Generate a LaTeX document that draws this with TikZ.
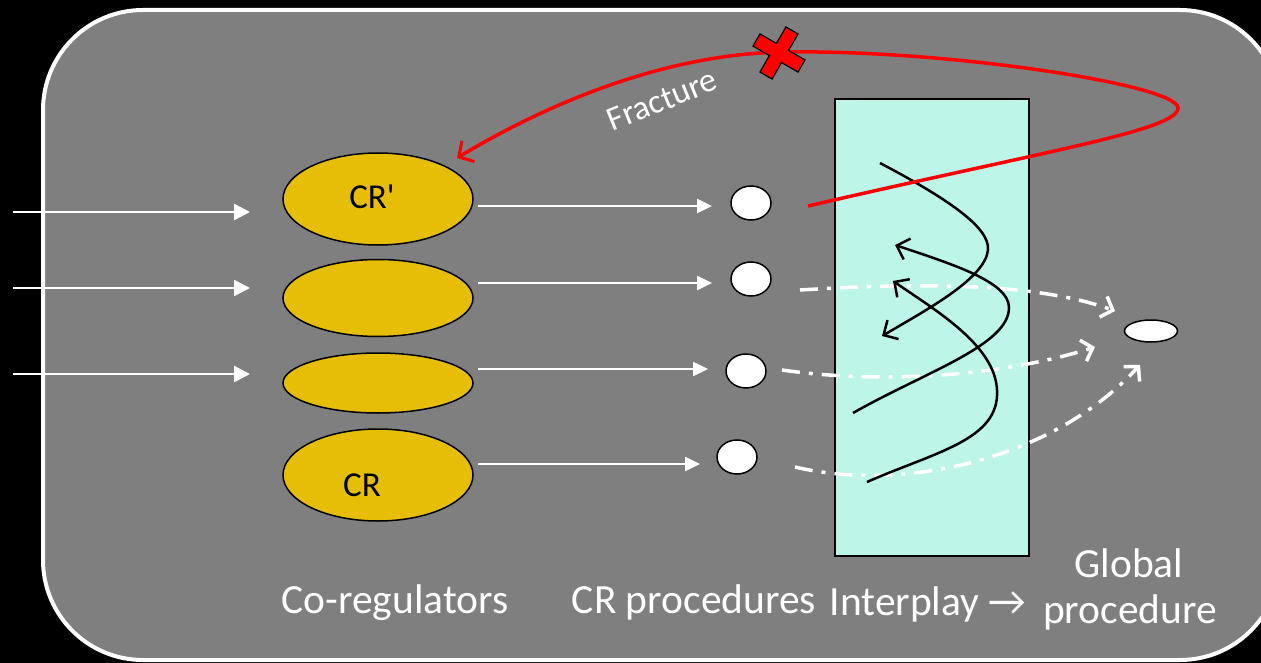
\documentclass[tikz,border=0pt]{standalone}
\usepackage{fontspec}
\setmainfont{Carlito}
\newfontfamily\crfont[Ligatures=ResetAll]{Carlito}
\usetikzlibrary{arrows.meta,shapes.geometric}
\definecolor{bggray}{HTML}{7F7F7F}
\definecolor{crgold}{HTML}{E6BE08}
\definecolor{aqua}{HTML}{BDF5E8}
\definecolor{xred}{HTML}{FF0000}
\begin{document}
\begin{tikzpicture}[x=1pt,y=-1pt,
  crnode/.style={ellipse, draw=black, line width=1.5pt, fill=crgold, inner sep=0pt, minimum width=190pt},
  crtext/.style={font=\crfont\fontsize{35}{40}\selectfont, inner sep=0pt},
  dotnode/.style={ellipse, draw=black, line width=1.5pt, fill=white, inner sep=0pt, minimum width=40pt, minimum height=34pt},
  feed/.style={white, line width=2.5pt, -{Triangle[length=16pt,width=16pt]}},
  wave/.style={black, line width=2.5pt, -{Straight Barb[length=11pt,width=22pt,line width=2.5pt]}},
  flow/.style={white, line width=3.5pt, dash pattern=on 18pt off 9pt on 4pt off 9pt, -{Straight Barb[length=10pt,width=22pt,line width=3.5pt]}},
  lbl/.style={white, font=\fontsize{41.5}{48}\selectfont, inner sep=0pt, anchor=base}
]
\useasboundingbox (0,0) rectangle (1261,663);
\fill[black] (0,0) rectangle (1261,663);
\draw[white, line width=4pt, fill=bggray, rounded corners=100pt] (43,10) rectangle (1280,660);

% co-regulators
\node[crnode, minimum height=92pt] (e1) at (378,199) {};
\node[crnode, minimum height=77pt] (e2) at (378,298) {};
\node[crnode, minimum height=60pt] (e3) at (378,383) {};
\node[crnode, minimum height=92pt] (e4) at (378,475) {};
\node[crtext] (t1) at (372,197) {CR'};
\node[crtext] (t4) at (362,485) {CR};

% procedures
\node[dotnode] (c1) at (751,203) {};
\node[dotnode] (c2) at (751,279) {};
\node[dotnode] (c3) at (746,371) {};
\node[dotnode] (c4) at (737,457) {};

% interplay box
\node[draw=black, line width=1.5pt, fill=aqua, minimum width=194pt, minimum height=457pt, inner sep=0pt] (box) at (932,327.5) {};

% global procedure
\node[ellipse, draw=black, line width=1.5pt, fill=white, inner sep=0pt, minimum width=53pt, minimum height=22pt] (g) at (1151,331) {};

% input arrows
\coordinate (i1) at (13,212); \coordinate (i1e) at (250,212);
\coordinate (i2) at (13,288); \coordinate (i2e) at (250,288);
\coordinate (i3) at (13,374); \coordinate (i3e) at (250,374);
\draw[feed] (i1) -- (i1e);
\draw[feed] (i2) -- (i2e);
\draw[feed] (i3) -- (i3e);

% CR -> procedure arrows
\coordinate (p1) at (478,206); \coordinate (p1e) at (712,206);
\coordinate (p2) at (478,283); \coordinate (p2e) at (712,283);
\coordinate (p3) at (478,369); \coordinate (p3e) at (708,369);
\coordinate (p4) at (478,464); \coordinate (p4e) at (700,464);
\draw[feed, -{Triangle[length=15pt,width=14pt]}] (p1) -- (p1e);
\draw[feed, -{Triangle[length=15pt,width=14pt]}] (p2) -- (p2e);
\draw[feed, -{Triangle[length=15pt,width=14pt]}] (p3) -- (p3e);
\draw[feed, -{Triangle[length=15pt,width=14pt]}] (p4) -- (p4e);

% dash-dot flows to global procedure
\coordinate (f1) at (800,290); \coordinate (f1e) at (1115,311);
\coordinate (f2) at (782,370); \coordinate (f2e) at (1095,347);
\coordinate (f3) at (795,467); \coordinate (f3e) at (1140,365);
\draw[flow] (f1) .. controls (900,284) and (1030,280) .. (f1e);
\draw[flow] (f2) .. controls (880,384) and (1000,377) .. (f2e);
\draw[flow] (f3) .. controls (900,492) and (1050,462) .. (f3e);

% interplay waves
\draw[wave] (880,163) .. controls (950,200) and (990,228) .. (988,250)
            .. controls (985,278) and (930,308) .. (882,336);
\draw[wave] (853,413) .. controls (925,372) and (1010,345) .. (1009,307)
            .. controls (1008,282) and (955,265) .. (895,245);
\draw[wave] (867,482) .. controls (935,452) and (1000,440) .. (997,390)
            .. controls (995,345) and (935,310) .. (893,281);

% fracture loop
\coordinate (r0) at (808,206);
\coordinate (r1) at (457,158);
\draw[xred, line width=3.5pt, -{Straight Barb[length=11pt,width=24pt,line width=3pt]}]
  (r0) .. controls (1050,150) and (1178,130) .. (1178,108)
       .. controls (1178,85) and (950,50) .. (790,52)
       .. controls (650,52) and (520,120) .. (r1);
\node[white, font=\fontsize{34}{38}\selectfont, rotate=22, inner sep=0pt] (fr) at (662,100) {Fracture};
\filldraw[fill=xred, draw=black, line width=1.2pt, shift={(779,53)}, rotate=-30]
  (-26,-7) -- (-7,-7) -- (-7,-26) -- (7,-26) -- (7,-7) -- (26,-7) -- (26,7) -- (7,7)
  -- (7,26) -- (-7,26) -- (-7,7) -- (-26,7) -- cycle;

% labels
\node[lbl] (l1) at (395,613) {Co-regulators};
\node[lbl] (l2) at (694,613) {CR procedures};
\node[lbl] (l3) at (928,615) {Interplay →};
\node[lbl] (l4) at (1129,577) {Global};
\node[lbl] (l5) at (1130,623) {procedure};
\end{tikzpicture}
\end{document}
